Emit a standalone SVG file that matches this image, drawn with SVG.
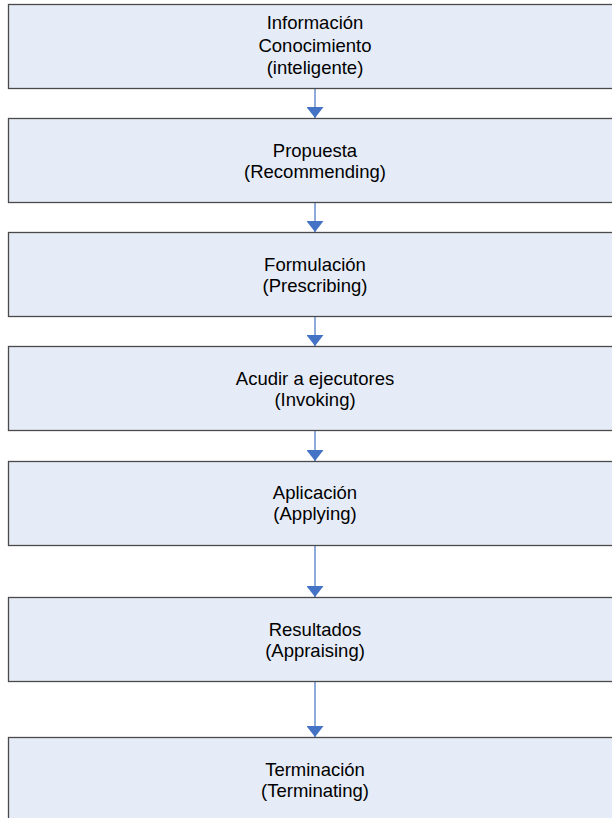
<svg xmlns="http://www.w3.org/2000/svg" width="612" height="818" viewBox="0 0 612 818">
<defs>
<style>
.box{fill:#e6ecf7;stroke:#4a4a4a;stroke-width:1.3}
.t{font-family:"Liberation Sans",Arial,sans-serif;font-size:18.5px;fill:#000;text-anchor:middle}
.c{stroke:#8eaadb;stroke-width:2;fill:none}
</style>
<marker id="a2" markerWidth="11" markerHeight="17" refX="11" refY="8.5" orient="auto" markerUnits="userSpaceOnUse" viewBox="0 0 11 17">
<path d="M0,0 L11,8.5 L0,17 Z" fill="#4472c4"/>
</marker>
</defs>
<rect width="612" height="818" fill="#fff"/>
<g id="connectors">
<line class="c" x1="315" y1="88" x2="315" y2="118" marker-end="url(#a2)"/>
<line class="c" x1="315" y1="202" x2="315" y2="232" marker-end="url(#a2)"/>
<line class="c" x1="315" y1="316" x2="315" y2="346" marker-end="url(#a2)"/>
<line class="c" x1="315" y1="430" x2="315" y2="461" marker-end="url(#a2)"/>
<line class="c" x1="315" y1="545" x2="315" y2="597" marker-end="url(#a2)"/>
<line class="c" x1="315" y1="681" x2="315" y2="737" marker-end="url(#a2)"/>
</g>
<g id="n1"><rect class="box" x="8.5" y="4.5" width="620" height="84"/>
<text class="t" x="315" y="29">Información</text><text class="t" x="315" y="51.5">Conocimiento</text><text class="t" x="315" y="74">(inteligente)</text></g>
<g id="n2"><rect class="box" x="8.5" y="118.5" width="620" height="84"/>
<text class="t" x="315" y="157">Propuesta</text><text class="t" x="315" y="178">(Recommending)</text></g>
<g id="n3"><rect class="box" x="8.5" y="232.5" width="620" height="84"/>
<text class="t" x="315" y="271">Formulación</text><text class="t" x="315" y="292">(Prescribing)</text></g>
<g id="n4"><rect class="box" x="8.5" y="346.5" width="620" height="84"/>
<text class="t" x="315" y="385">Acudir a ejecutores</text><text class="t" x="315" y="406">(Invoking)</text></g>
<g id="n5"><rect class="box" x="8.5" y="461.5" width="620" height="84"/>
<text class="t" x="315" y="499">Aplicación</text><text class="t" x="315" y="520">(Applying)</text></g>
<g id="n6"><rect class="box" x="8.5" y="597.5" width="620" height="84"/>
<text class="t" x="315" y="636">Resultados</text><text class="t" x="315" y="657">(Appraising)</text></g>
<g id="n7"><rect class="box" x="8.5" y="737.5" width="620" height="90"/>
<text class="t" x="315" y="776">Terminación</text><text class="t" x="315" y="797">(Terminating)</text></g>
</svg>
